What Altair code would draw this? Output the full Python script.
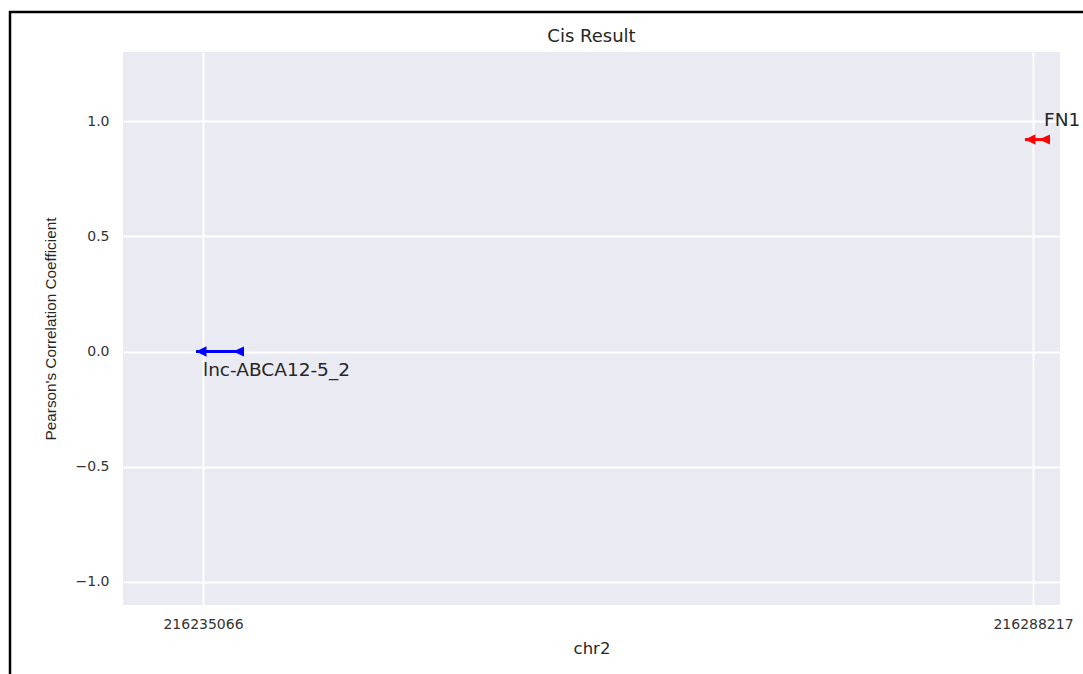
import altair as alt
import pandas as pd

# Genes in the cis window on chr2 (both on the minus strand)
gene_names = ["lnc-ABCA12-5_2", "FN1"]
gene_tss = [216235066, 216288217]
gene_start = [216234620, 216287700]
gene_end = [216237690, 216289300]
pearson_r = [0.0, 0.92]
gene_colors = ["#0000ff", "#ff0000"]

y_ticks = [-1.0, -0.5, 0.0, 0.5, 1.0]
x_domain = [216229943, 216289946]
y_domain = [-1.1, 1.3]

W, H = 937, 553
PAD = {"left": 123, "top": 52, "right": 23, "bottom": 69}

df = pd.DataFrame({
    "gene": gene_names,
    "tss": gene_tss,
    "start": gene_start,
    "end": gene_end,
    "r": pearson_r,
    "color": gene_colors,
})

x_enc = alt.X(
    "start:Q",
    title="chr2",
    scale=alt.Scale(domain=x_domain, nice=False, zero=False),
    axis=alt.Axis(values=gene_tss, format="d"),
)
y_enc = alt.Y(
    "r:Q",
    title="Pearson's Correlation Coefficient",
    scale=alt.Scale(domain=y_domain, nice=False, zero=False),
    axis=alt.Axis(values=y_ticks, format=".1f"),
)
col = alt.Color("color:N", scale=None, legend=None)

base = alt.Chart(df)

# gene body
body = base.mark_rule(strokeWidth=3).encode(x=x_enc, x2="end:Q", y=y_enc, color=col)

# arrow head at the 3' end (left, minus strand)
head = base.mark_point(
    shape="M0,0L2,-1L2,1Z", filled=True, size=110, opacity=1, strokeWidth=0
).encode(x=x_enc, y=y_enc, color=col)

# tail marker at the 5' end
tail = base.mark_point(
    shape="M-2.2,0L0,-1L0,1Z", filled=True, size=100, opacity=1, strokeWidth=0
).encode(x=alt.X("end:Q"), y=y_enc, color=col)

label_style = dict(font="DejaVu Sans", fontSize=18.5, color="#262626",
                   align="left", baseline="alphabetic")
lnc_label = base.transform_filter(alt.datum.gene == "lnc-ABCA12-5_2").mark_text(
    dy=24, **label_style
).encode(x=alt.X("tss:Q"), y=y_enc, text="gene:N")
fn1_label = base.transform_filter(alt.datum.gene == "FN1").mark_text(
    dx=11, dy=-14, **label_style
).encode(x=alt.X("tss:Q"), y=y_enc, text="gene:N")

# chart title, centred over the plot area
title = alt.Chart(alt.Data(values=[{"t": "Cis Result"}])).mark_text(
    font="DejaVu Sans", fontSize=18, color="#262626",
    align="center", baseline="alphabetic",
).encode(x=alt.value(W / 2), y=alt.value(-10), text="t:N")

# figure frame (its right and bottom sides run past the canvas)
frame = alt.Chart(alt.Data(values=[{}])).mark_rect(
    fill=None, stroke="black", strokeWidth=2.5
).encode(
    x=alt.value(-113), x2=alt.value(W + 60),
    y=alt.value(-40), y2=alt.value(H + 100),
)

chart = alt.layer(frame, body, head, tail, lnc_label, fn1_label, title).properties(
    width=W,
    height=H,
    padding=PAD,
    background="white",
    autosize=alt.AutoSizeParams(type="none"),
).configure_view(
    fill="#EAEAF2", stroke=None
).configure_axis(
    grid=True, gridColor="white", gridWidth=1.8, domain=False, ticks=False,
    labelFont="DejaVu Sans", labelFontSize=14, labelColor="#333333",
    titleFont="DejaVu Sans", titleFontSize=16.5, titleColor="#262626",
    titleFontWeight="normal",
).configure_axisX(
    labelPadding=23, labelBaseline="alphabetic", titleY=48, titleBaseline="alphabetic",
).configure_axisY(
    labelPadding=14, titleX=-73, titleY=H / 2, titleBaseline="middle",
    titleFont="Liberation Sans", titleFontSize=15.3,
)

chart.save("out.html", embed_options={"renderer": "svg", "actions": False})
